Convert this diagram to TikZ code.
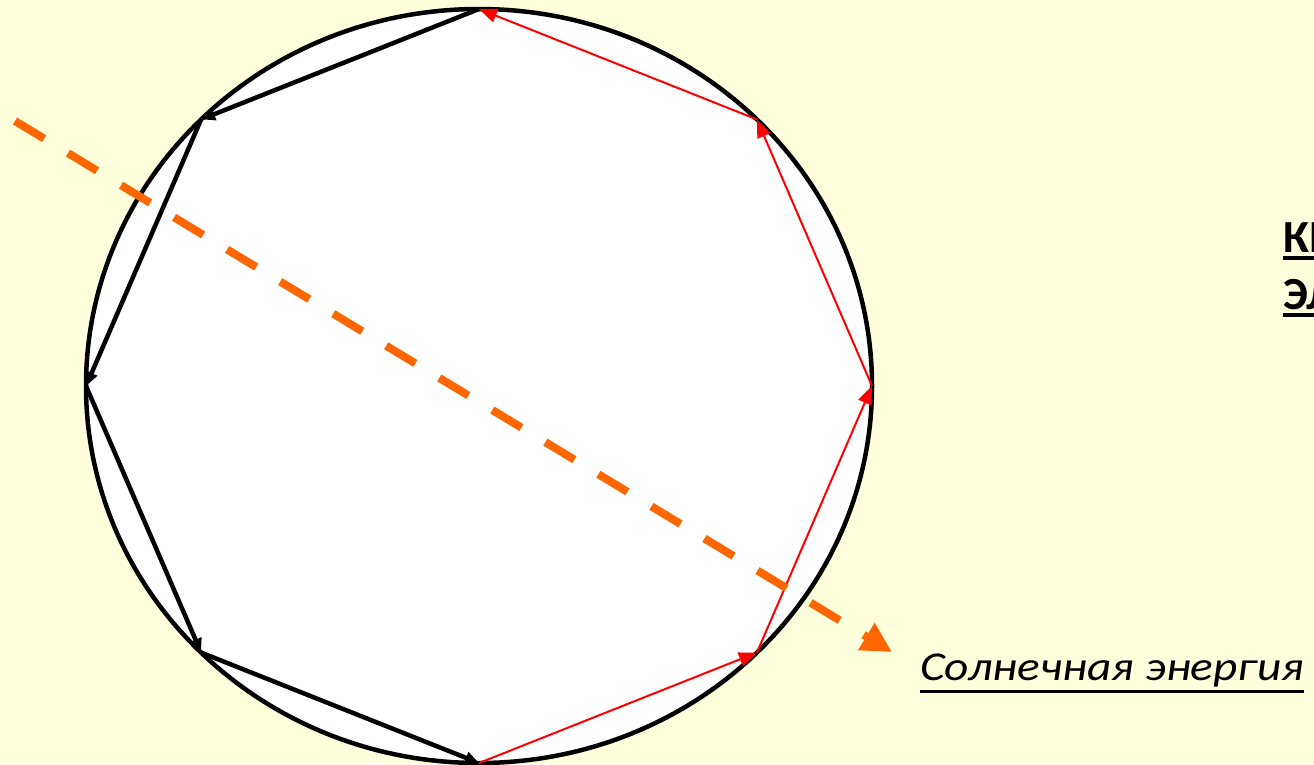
\documentclass[tikz,border=0pt]{standalone}
\usepackage{fontspec}
\setmainfont{Carlito}
\usetikzlibrary{arrows.meta,calc}
\definecolor{bgyellow}{HTML}{FFFFDB}
\definecolor{sunorange}{HTML}{FF6600}
\tikzset{
  blackarc/.style={line width=4.5pt, black, -{Triangle[length=14pt,width=12pt]}},
  redarc/.style={line width=2pt, red, -{Triangle[length=18pt,width=14pt]}},
  sunray/.style={line width=8pt, sunorange, dash pattern=on 34pt off 28pt, -{Triangle[length=30pt,width=30pt]}},
  ulabel/.style={inner sep=0pt, anchor=base west},
  uline/.style={line width=3pt, black}
}
\begin{document}
\begin{tikzpicture}[x=1pt,y=-1pt]
\fill[bgyellow] (0,0) rectangle (1314,764);
\useasboundingbox (0,0) rectangle (1314,764);
\filldraw[fill=white, draw=black, line width=4.5pt] (479,386) ellipse [x radius=393, y radius=377];
\coordinate (c) at (479,386);
\foreach \i/\a in {0/0,1/45,2/90,3/135,4/180,5/225,6/270,7/315}
  \coordinate (v\i) at ($(c)+({393*cos(\a)},{-377*sin(\a)})$);
\draw[blackarc] (v2) -- (v3);
\draw[blackarc] (v3) -- (v4);
\draw[blackarc] (v4) -- (v5);
\draw[blackarc] (v5) -- (v6);
\draw[redarc] (v6) -- (v7);
\draw[redarc] (v7) -- (v0);
\draw[redarc] (v0) -- (v1);
\draw[redarc] (v1) -- (v2);
\coordinate (s0) at (15,121);
\coordinate (s1) at (892,652);
\draw[sunray] (s0) -- (s1);
\node[ulabel, xscale=1.155, transform shape, font=\fontsize{41}{50}\selectfont\itshape] (sun) at (920,680) {Солнечная энергия};
\draw[uline] ($(sun.base west)+(0,11)$) -- ($(sun.base east)+(0,11)$);
\node[ulabel, font=\fontsize{46}{56}\selectfont\bfseries] (k1) at (1283,252) {КИ};
\draw[uline, line width=4pt] ($(k1.base west)+(0,6)$) -- ($(k1.base east)+(0,6)$);
\node[ulabel, font=\fontsize{46}{56}\selectfont\bfseries] (k2) at (1283,309) {ЭЛ};
\draw[uline, line width=4pt] ($(k2.base west)+(0,6)$) -- ($(k2.base east)+(0,6)$);
\end{tikzpicture}
\end{document}
